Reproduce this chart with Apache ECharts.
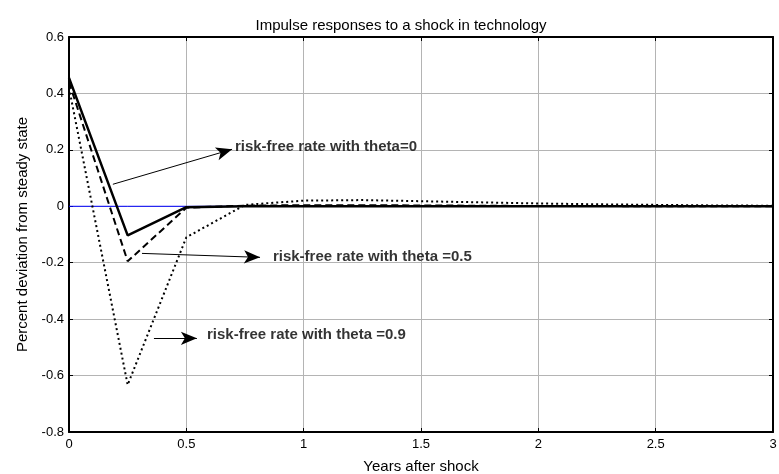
<!DOCTYPE html>
<html>
<head>
<meta charset="utf-8">
<script src="https://cdn.jsdelivr.net/npm/echarts@6/dist/echarts.min.js"></script>
<style>
html, body { margin: 0; padding: 0; background: #fff; }
#chart { width: 779px; height: 474px; }
</style>
</head>
<body>
<div id="chart"></div>
<script>
// quarters after the shock
var years = [0, 0.25, 0.5, 0.75, 1, 1.25, 1.5, 1.75, 2, 2.25, 2.5, 2.75, 3];
var theta0 = [0.455, -0.103, -0.003, 0, 0, 0, 0, 0, 0, 0, 0, 0, 0];
var theta05 = [0.44, -0.195, -0.005, 0.002, 0.004, 0.004, 0.003, 0.002, 0.001, 0.001, 0, 0, 0];
var theta09 = [0.42, -0.633, -0.11, 0.005, 0.02, 0.022, 0.018, 0.014, 0.01, 0.007, 0.005, 0.003, 0.002];
var zeroLine = [0, 0, 0, 0, 0, 0, 0, 0, 0, 0, 0, 0, 0];

// annotation arrows: [start, end] in data coords, text placed after end
var arrows = [
    { from: [0.187, 0.078], to: [0.695, 0.202], text: 'risk-free rate with theta=0', at: [0.707, 0.209] },
    { from: [0.311, -0.167], to: [0.814, -0.181], text: 'risk-free rate with theta =0.5', at: [0.869, -0.181] },
    { from: [0.362, -0.468], to: [0.545, -0.468], text: 'risk-free rate with theta =0.9', at: [0.588, -0.454] }
];

var font = 'Liberation Sans, Arial, sans-serif';

function pairs(ys) {
    return years.map(function (x, i) { return [x, ys[i]]; });
}

function lineSeries(name, ys, type, color, width) {
    return {
        name: name,
        type: 'line',
        data: pairs(ys),
        symbol: 'none',
        lineStyle: { color: color, width: width, type: type }
    };
}

var chart = echarts.init(document.getElementById('chart'));

var option = {
    backgroundColor: '#fff',
    animation: false,
    title: {
        text: 'Impulse responses to a shock in technology',
        left: 396,
        top: 13,
        textAlign: 'center',
        textStyle: { fontFamily: font, fontSize: 15, fontWeight: 'normal', color: '#000' }
    },
    grid: { left: 69, right: 6, top: 37, bottom: 42, outerBoundsMode: 'none' },
    xAxis: [{
        type: 'value',
        min: 0,
        max: 3,
        interval: 0.5,
        name: 'Years after shock',
        nameLocation: 'middle',
        nameGap: 27,
        nameTextStyle: { fontFamily: font, fontSize: 15, color: '#000' },
        axisLine: { show: true, onZero: false, lineStyle: { color: '#000', width: 2 } },
        axisTick: { show: true, inside: true, length: 4, lineStyle: { color: '#000' } },
        axisLabel: { fontFamily: font, fontSize: 13, color: '#000', margin: 6 },
        splitLine: { show: true, lineStyle: { color: '#b4b4b4', width: 1 } }
    }, {
        type: 'value',
        position: 'top',
        min: 0,
        max: 3,
        interval: 0.5,
        axisLine: { show: true, onZero: false, lineStyle: { color: '#000', width: 2 } },
        axisTick: { show: true, inside: true, length: 4, lineStyle: { color: '#000' } },
        axisLabel: { show: false },
        splitLine: { show: false }
    }],
    yAxis: [{
        type: 'value',
        min: -0.8,
        max: 0.6,
        interval: 0.2,
        name: 'Percent deviation from steady state',
        nameLocation: 'middle',
        nameGap: 39,
        nameTextStyle: { fontFamily: font, fontSize: 15, color: '#000' },
        axisLine: { show: true, onZero: false, lineStyle: { color: '#000', width: 2 } },
        axisTick: { show: true, inside: true, length: 4, lineStyle: { color: '#000' } },
        axisLabel: {
            fontFamily: font, fontSize: 13, color: '#000', margin: 5,
            formatter: function (v) { return String(Math.round(v * 10) / 10); }
        },
        splitLine: { show: true, lineStyle: { color: '#b4b4b4', width: 1 } }
    }, {
        type: 'value',
        position: 'right',
        min: -0.8,
        max: 0.6,
        interval: 0.2,
        axisLine: { show: true, onZero: false, lineStyle: { color: '#000', width: 2 } },
        axisTick: { show: true, inside: true, length: 4, lineStyle: { color: '#000' } },
        axisLabel: { show: false },
        splitLine: { show: false }
    }],
    series: [
        lineSeries('zero', zeroLine, 'solid', '#0000ff', 1),
        lineSeries('theta=0.9', theta09, [2, 3], '#000', 2),
        lineSeries('theta=0.5', theta05, [7, 4], '#000', 2),
        lineSeries('theta=0', theta0, 'solid', '#000', 2.5),
        {
            type: 'line',
            data: [],
            markLine: {
                silent: true,
                symbol: ['none', 'arrow'],
                symbolSize: [10, 16],
                label: { show: false },
                lineStyle: { color: '#000', width: 1, type: 'solid' },
                data: arrows.map(function (a) {
                    return [{ coord: a.from }, { coord: a.to }];
                })
            }
        },
        {
            type: 'scatter',
            symbolSize: 0,
            data: arrows.map(function (a) {
                return { value: a.at, label: { formatter: a.text } };
            }),
            label: {
                show: true,
                position: 'right',
                distance: 0,
                fontFamily: font,
                fontSize: 15,
                fontWeight: 'bold',
                color: '#000'
            }
        }
    ]
};

chart.setOption(option);
</script>
</body>
</html>
